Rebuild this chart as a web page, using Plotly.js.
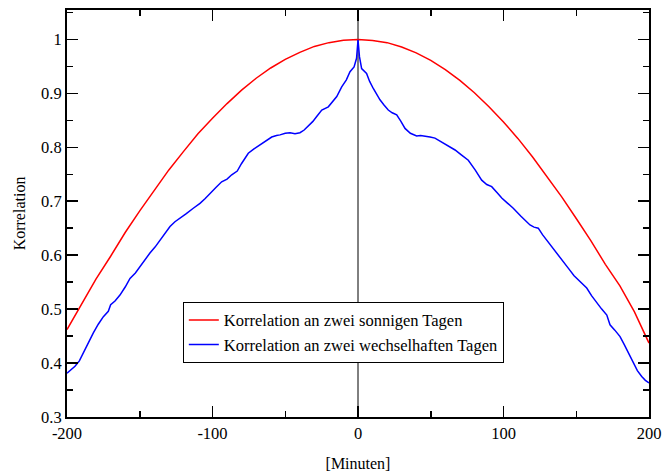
<!DOCTYPE html>
<html>
<head>
<meta charset="utf-8">
<script src="https://cdn.plot.ly/plotly-3.0.1.min.js"></script>
<style>html,body{margin:0;padding:0;background:#fff;}#chart{width:662px;height:472px;}</style>
</head>
<body>
<div id="chart"></div>
<script>
// Red series: correlation on two sunny days
const sunnyX = [-200,-190,-180,-170,-160,-150,-140,-130,-120,-110,-100,-90,-80,-70,-60,-50,-40,-30,-20,-10,0,10,20,30,40,50,60,70,80,90,100,110,120,130,140,150,160,170,180,190,200];
const sunnyY = [0.462,0.508,0.556,0.598,0.642,0.682,0.721,0.758,0.792,0.825,0.854,0.881,0.906,0.928,0.947,0.963,0.976,0.987,0.994,0.9985,1.0,0.998,0.994,0.986,0.975,0.961,0.944,0.924,0.901,0.875,0.847,0.816,0.782,0.746,0.708,0.668,0.627,0.583,0.543,0.495,0.437];

// Blue series: correlation on two changeable days
const mixedX = [-200,-197,-194.5,-191.5,-188.8,-185,-181.9,-178.5,-175,-171.6,-170,-167,-163.6,-160,-156.7,-153,-149.8,-146.5,-143,-139.5,-136,-132.5,-129.2,-125.8,-122.3,-118,-113.2,-108.6,-105,-101.7,-97.5,-93.7,-90,-86.8,-83,-80,-75.4,-71.5,-67.4,-63,-59.3,-56,-53.6,-50,-46.7,-43.3,-39.9,-37,-34.2,-31,-28.4,-24.9,-20.4,-17.5,-14.6,-11.2,-8,-5.5,-2.7,-1,0,1,2.5,5.9,8,10.5,13,15.1,18,20.8,23.5,26.6,29.5,32.3,36,40.3,43,46,49.5,52.9,55.5,58.6,62.5,66.7,71,75.8,80.5,85,88.5,91.9,95.5,98.8,102.5,106.7,112,118.2,121,123.9,126.8,129.6,133,136.5,140.5,144.5,148.5,152.5,157.2,160.5,164.1,167.5,171,173.2,176.5,180.1,183,186,189.3,192,195,197.5,200];
const mixedY = [0.381,0.388,0.394,0.404,0.419,0.437,0.456,0.472,0.486,0.496,0.508,0.515,0.526,0.541,0.557,0.567,0.579,0.591,0.604,0.615,0.628,0.641,0.653,0.662,0.668,0.677,0.687,0.696,0.705,0.715,0.726,0.736,0.741,0.749,0.756,0.770,0.789,0.797,0.804,0.812,0.819,0.822,0.823,0.826,0.827,0.825,0.827,0.832,0.839,0.848,0.857,0.869,0.875,0.884,0.894,0.912,0.925,0.940,0.949,0.965,0.999,0.968,0.946,0.937,0.922,0.909,0.897,0.888,0.878,0.869,0.864,0.860,0.848,0.835,0.826,0.821,0.822,0.820,0.819,0.817,0.813,0.807,0.802,0.795,0.786,0.776,0.758,0.739,0.731,0.727,0.716,0.706,0.697,0.687,0.672,0.656,0.652,0.650,0.638,0.628,0.615,0.604,0.590,0.576,0.562,0.552,0.539,0.525,0.511,0.500,0.489,0.471,0.461,0.449,0.434,0.418,0.400,0.386,0.375,0.368,0.363];

const xTickVals = [-200,-100,0,100,200];
const xTickText = ['-200','-100','0','100','200'];
const yTickVals = [0.3,0.4,0.5,0.6,0.7,0.8,0.9,1.0];
const yTickText = ['0.3','0.4','0.5','0.6','0.7','0.8','0.9','1'];

const seriesNames = ['Korrelation an zwei sonnigen Tagen','Korrelation an zwei wechselhaften Tagen'];

const font = '"Liberation Serif", "Times New Roman", serif';

const traces = [
  {x: sunnyX, y: sunnyY, type: 'scatter', mode: 'lines', name: seriesNames[0], line: {color: '#ff0000', width: 1.5}},
  {x: mixedX, y: mixedY, type: 'scatter', mode: 'lines', name: seriesNames[1], line: {color: '#0000ff', width: 1.5}}
];

const layout = {
  width: 662, height: 472,
  margin: {l: 67, r: 13, t: 10, b: 55},
  paper_bgcolor: '#fff', plot_bgcolor: '#fff',
  font: {family: font, size: 16.5, color: '#000'},
  showlegend: true,
  legend: {
    x: 0.199, y: 0.283, xanchor: 'left', yanchor: 'top',
    bgcolor: '#fff', bordercolor: '#000', borderwidth: 1,
    font: {family: font, size: 16.5, color: '#000'},
    tracegroupgap: 0
  },
  xaxis: {
    range: [-200, 200], showgrid: false, zeroline: false,
    showline: true, linecolor: '#000', linewidth: 2, mirror: 'ticks',
    ticks: 'inside', ticklen: 11, tickwidth: 1.5, tickcolor: '#000',
    tickvals: xTickVals, ticktext: xTickText,
    minor: {dtick: 50, tick0: 0, ticks: 'inside', ticklen: 6, tickwidth: 1.5, tickcolor: '#000', showgrid: false},
    tickfont: {family: font, size: 16.5},
    title: {text: '[Minuten]', font: {family: font, size: 16}, standoff: 18}
  },
  yaxis: {
    range: [0.3, 1.0545], showgrid: false, zeroline: false,
    showline: true, linecolor: '#000', linewidth: 2, mirror: 'ticks',
    ticks: 'inside', ticklen: 11, tickwidth: 1.5, tickcolor: '#000',
    tickvals: yTickVals, ticktext: yTickText,
    minor: {dtick: 0.05, tick0: 0.3, ticks: 'inside', ticklen: 6, tickwidth: 1.5, tickcolor: '#000', showgrid: false},
    tickfont: {family: font, size: 16.5},
    title: {text: 'Korrelation', font: {family: font, size: 16}, standoff: 11}
  },
  shapes: [
    {type: 'line', xref: 'x', yref: 'paper', x0: 0, x1: 0, y0: 0, y1: 1, line: {color: '#000', width: 1}, layer: 'below'}
  ]
};

Plotly.newPlot('chart', traces, layout, {displayModeBar: false, staticPlot: true});
</script>
</body>
</html>
